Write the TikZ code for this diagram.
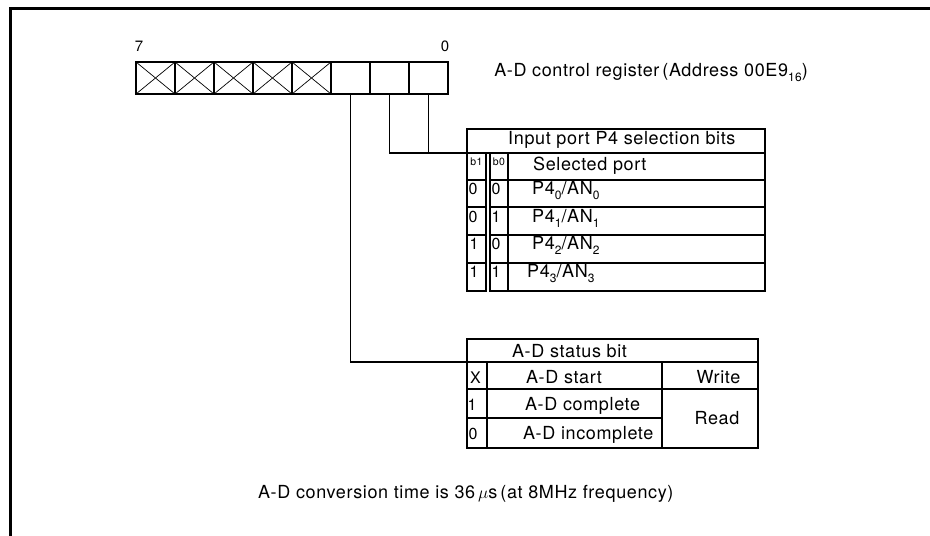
\documentclass[tikz,border=0pt]{standalone}
\usepackage{fontspec}
\setmainfont{TeX Gyre Heros}[LetterSpace=3.5]
\newcommand\sbs[1]{\raisebox{-0.28em}{\fontsize{12}{13}\selectfont #1}}
\newcommand\mkcell[5]{\node[tcell, minimum width={#4-#2}, minimum height={#5-#3}] (#1) at ({(#2+#4)/2},{(#3+#5)/2}) {};}
\begin{document}
\begin{tikzpicture}[x=1pt,y=-1pt,
  regcell/.style={draw, line width=2.2pt, minimum width=39, minimum height=32, inner sep=0pt, outer sep=0pt},
  tcell/.style={draw, line width=2pt, inner sep=0pt, outer sep=0pt},
  txt/.style={anchor=base west, inner sep=0pt, font=\fontsize{18}{21}\selectfont},
  ctxt/.style={anchor=base, inner sep=0pt, font=\fontsize{18}{21}\selectfont},
  dig/.style={anchor=base, inner sep=0pt, font=\fontsize{16}{19}\selectfont},
  small/.style={anchor=base, inner sep=0pt, font=\fontsize{10.5}{12}\selectfont},
  bitlbl/.style={anchor=base, inner sep=0pt, font=\fontsize{15}{17}\selectfont},
  conn/.style={line width=1.2pt},
  cross/.style={line width=0.7pt},
  frame/.style={line width=3pt}]
\useasboundingbox (0,0) rectangle (930,536);
% outer frame
\coordinate (fa) at (930,8.5);
\coordinate (fb) at (10,8.5);
\coordinate (fc) at (10,536);
\draw[frame] (fa) -- (fb) -- (fc);
% register
\foreach \i in {0,...,7} {\node[regcell] (r\i) at ({428.5-39*\i},78) {};}
\foreach \i in {3,...,7} {
  \draw[cross] (r\i.north west) -- (r\i.south east);
  \draw[cross] (r\i.south west) -- (r\i.north east);
}
\node[bitlbl] (l7) at (139,51) {7};
\node[bitlbl] (l0) at (445,51) {0};
\node[txt, anchor=base east] (title) at (808,76) {A-D control register\,(Address 00E9\sbs{16})};
% table 1
\mkcell{ih}{467}{129}{765}{153}
\mkcell{hb1}{467}{153}{486}{180}
\mkcell{hb0}{490}{153}{508}{180}
\mkcell{hsp}{508}{153}{765}{180}
\mkcell{ab1}{467}{180}{486}{207}
\mkcell{ab0}{490}{180}{508}{207}
\mkcell{ap}{508}{180}{765}{207}
\mkcell{bb1}{467}{207}{486}{235}
\mkcell{bb0}{490}{207}{508}{235}
\mkcell{bp}{508}{207}{765}{235}
\mkcell{cb1}{467}{235}{486}{263}
\mkcell{cb0}{490}{235}{508}{263}
\mkcell{cp}{508}{235}{765}{263}
\mkcell{db1}{467}{263}{486}{291}
\mkcell{db0}{490}{263}{508}{291}
\mkcell{dp}{508}{263}{765}{291}
\node[txt] (ihT) at (508,144) {Input port P4 selection bits};
\node[small] (b1T) at (476.5,165) {b1};
\node[small] (b0T) at (499,165) {b0};
\node[txt] (spT) at (533,170) {Selected port};
\node[dig] (a1) at (473,194) {0};
\node[dig] (a0) at (496,194) {0};
\node[txt] (aT) at (532,194) {P4\sbs{0}/AN\sbs{0}};
\node[dig] (b1) at (473,222) {0};
\node[dig] (b0) at (496,222) {1};
\node[txt] (bT) at (532,222) {P4\sbs{1}/AN\sbs{1}};
\node[dig] (c1) at (474,249) {1};
\node[dig] (c0) at (496,249) {0};
\node[txt] (cT) at (532,249) {P4\sbs{2}/AN\sbs{2}};
\node[dig] (d1) at (474,277) {1};
\node[dig] (d0) at (496,277) {1};
\node[txt] (dT) at (527,277) {P4\sbs{3}/AN\sbs{3}};
% table 2
\mkcell{sh}{467}{339}{758}{362}
\mkcell{sx}{467}{362}{487}{389}
\mkcell{sxs}{487}{362}{662}{389}
\mkcell{sw}{662}{362}{758}{389}
\mkcell{s1}{467}{389}{487}{418}
\mkcell{s1t}{487}{389}{662}{418}
\mkcell{s0}{467}{418}{487}{448}
\mkcell{s0t}{487}{418}{662}{448}
\mkcell{sr}{662}{389}{758}{448}
\node[txt] (shT) at (512,357) {A-D status bit};
\node[dig] (xT) at (475.5,383) {X};
\node[txt] (stT) at (526,383) {A-D start};
\node[ctxt] (wT) at (718.5,383) {Write};
\node[dig] (oneT) at (472,410) {1};
\node[txt] (cmT) at (525,410) {A-D complete};
\node[dig] (zeroT) at (473,439) {0};
\node[txt] (icT) at (523,439) {A-D incomplete};
\node[ctxt] (rdT) at (717,424) {Read};
% connectors
\draw[conn] (r2.south) |- (sh.south west);
\draw[conn] (r1.south) |- (ih.south west);
\draw[conn] (r0.south) -- (r0.south |- ih.south west);
% footer
\node[txt] (foot) at (258,498) {A-D conversion time is 36\,$\mu$s\,(at 8MHz frequency)};
\end{tikzpicture}
\end{document}
